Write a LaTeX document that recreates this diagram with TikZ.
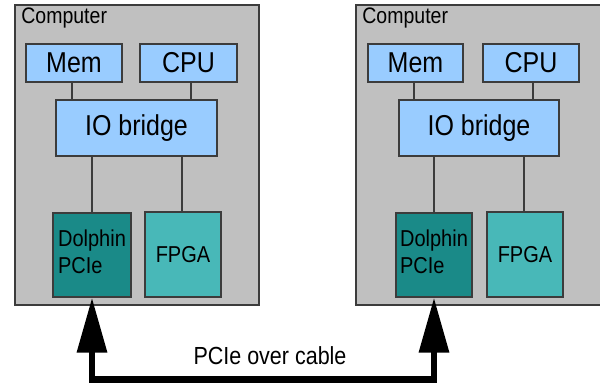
\documentclass[tikz,border=0pt]{standalone}
\usepackage{fontspec}
\setmainfont{Liberation Sans}
\usetikzlibrary{arrows.meta}

\definecolor{boxgray}{RGB}{192,192,192}
\definecolor{partblue}{RGB}{153,204,255}
\definecolor{nicteal}{RGB}{26,138,136}
\definecolor{fpgateal}{RGB}{72,184,184}
\definecolor{edgegray}{RGB}{60,60,60}

% slightly tall lettering
\newcommand{\tallText}[1]{\scalebox{1}[1.15]{#1}}

\tikzset{every picture/.style={line width=1.3pt}}
\tikzset{
  computer/.style={draw=edgegray, fill=boxgray, inner sep=0pt},
  part/.style={draw=edgegray, fill=partblue, inner sep=0pt, font=\fontsize{25}{28}\selectfont},
  card/.style={draw=edgegray, inner sep=0pt, font=\fontsize{20}{23.5}\selectfont},
  wire/.style={draw=edgegray},
  cable/.style={line width=6.5pt, {Triangle[width=29pt,length=55pt]}-{Triangle[width=29pt,length=55pt]}}
}

\begin{document}
\begin{tikzpicture}[x=1pt,y=1pt,yscale=-1,xscale=1]
\useasboundingbox (0,0) rectangle (600,383);

%Shape: Rectangle [left computer]
\node [computer, minimum width=244, minimum height=300] (compA) at (137,155) {};
% Text Node
\node [anchor=north west, inner sep=0.75pt, font=\fontsize{19.5}{22}\selectfont] (compAlabel) at (20,6) {\tallText{Computer}};
%Shape: Rectangle
\node [part, minimum width=96, minimum height=38] (memA) at (74,63) {\tallText{Mem}};
%Shape: Rectangle
\node [part, minimum width=97, minimum height=38] (cpuA) at (188.5,63) {\tallText{CPU}};
%Shape: Rectangle
\node [part, minimum width=161, minimum height=56] (ioA) at (136.5,128) {\tallText{IO bridge}};
%Shape: Rectangle
\node [card, fill=nicteal, minimum width=78, minimum height=84] (nicA) at (92,255) {\tallText{\begin{tabular}{@{}l@{}}Dolphin\\PCIe\end{tabular}}};
%Shape: Rectangle
\node [card, fill=fpgateal, minimum width=76, minimum height=85] (fpgaA) at (183,254.5) {\tallText{FPGA}};

%Straight Lines
\draw [wire] ([xshift=-2]memA.south) -- ([xshift=-2]memA.south |- ioA.north) ;
\draw [wire] ([xshift=2.5]cpuA.south) -- ([xshift=2.5]cpuA.south |- ioA.north) ;
\draw [wire] (nicA.north) -- (nicA.north |- ioA.south) ;
\draw [wire] ([xshift=-1]fpgaA.north) -- ([xshift=-1]fpgaA.north |- ioA.south) ;

%Shape: Rectangle [right computer]
\node [computer, minimum width=250, minimum height=300] (compB) at (481,155) {};
% Text Node
\node [anchor=north west, inner sep=0.75pt, font=\fontsize{19.5}{22}\selectfont] (compBlabel) at (361,6) {\tallText{Computer}};
%Shape: Rectangle
\node [part, minimum width=95, minimum height=38] (memB) at (415.5,63) {\tallText{Mem}};
%Shape: Rectangle
\node [part, minimum width=96, minimum height=38] (cpuB) at (531,63) {\tallText{CPU}};
%Shape: Rectangle
\node [part, minimum width=160, minimum height=56] (ioB) at (479,128) {\tallText{IO bridge}};
%Shape: Rectangle
\node [card, fill=nicteal, minimum width=76, minimum height=84] (nicB) at (434,255) {\tallText{\begin{tabular}{@{}l@{}}Dolphin\\PCIe\end{tabular}}};
%Shape: Rectangle
\node [card, fill=fpgateal, minimum width=76, minimum height=85] (fpgaB) at (525,254.5) {\tallText{FPGA}};

%Straight Lines
\draw [wire] ([xshift=-1.5]memB.south) -- ([xshift=-1.5]memB.south |- ioB.north) ;
\draw [wire] ([xshift=2]cpuB.south) -- ([xshift=2]cpuB.south |- ioB.north) ;
\draw [wire] (nicB.north) -- (nicB.north |- ioB.south) ;
\draw [wire] ([xshift=-1]fpgaB.north) -- ([xshift=-1]fpgaB.north |- ioB.south) ;

%Cable between the two PCIe cards
\coordinate (cablemid) at (265,379.5);
\draw [cable] (nicA.south) |- (cablemid) -| (nicB.south) ;
% Text Node
\node [inner sep=0.75pt, font=\fontsize{21.5}{24}\selectfont] (cablelabel) at (270,356) {\tallText{PCIe over cable}};

\end{tikzpicture}
\end{document}
